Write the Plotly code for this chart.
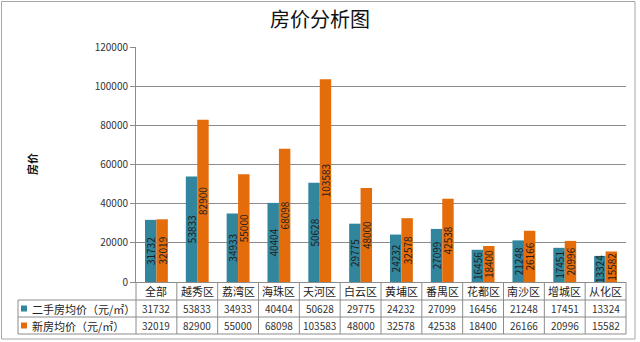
import plotly.graph_objects as go

# Average housing prices by district (yuan per square metre)
districts = ["全部", "越秀区", "荔湾区", "海珠区", "天河区", "白云区",
             "黄埔区", "番禺区", "花都区", "南沙区", "增城区", "从化区"]
second_hand = [31732, 53833, 34933, 40404, 50628, 29775,
               24232, 27099, 16456, 21248, 17451, 13324]
new_homes = [32019, 82900, 55000, 68098, 103583, 48000,
             32578, 42538, 18400, 26166, 20996, 15582]
series_names = ["二手房均价（元/㎡）", "新房均价（元/㎡）"]
y_ticks = [0, 20000, 40000, 60000, 80000, 100000, 120000]

TEAL = "#31859C"
ORANGE = "#E46C0A"
GRID = "#8C8C8C"
BORDER = "#A6A6A6"
FONT = "Noto Sans CJK SC"

W, H = 640, 342
L, R, T, B = 136, 14, 47, 60
PW, PH = W - L - R, H - T - B


def px_x(px):
    return (px - L) / PW


def px_y(py):
    return (H - B - py) / PH


fig = go.Figure()
for name, vals, color in [(series_names[0], second_hand, TEAL),
                          (series_names[1], new_homes, ORANGE)]:
    fig.add_trace(go.Bar(
        x=districts, y=vals, name=name, marker_color=color,
        marker_line_width=0,
        texttemplate="%{y:d}", textposition="inside",
        insidetextanchor="middle", textangle=-90, constraintext="none",
        textfont=dict(family=FONT, size=10, color="#1E1E1E"),
        hoverinfo="skip",
    ))

shapes = []
annotations = []

# outer chart frame
shapes.append(dict(type="rect", xref="paper", yref="paper",
                   x0=px_x(1.5), x1=px_x(635), y0=px_y(339), y1=px_y(1.5),
                   line=dict(color=BORDER, width=1)))

# data table under the plot: horizontal rules
row_lines = [300, 317, 334]
for py in row_lines:
    shapes.append(dict(type="line", xref="paper", yref="paper",
                       x0=px_x(18), x1=1, y0=px_y(py), y1=px_y(py),
                       line=dict(color=GRID, width=1)))
# vertical rules between categories
n = len(districts)
for i in range(n + 1):
    shapes.append(dict(type="line", xref="paper", yref="paper",
                       x0=i / n, x1=i / n, y0=0, y1=px_y(334),
                       line=dict(color=GRID, width=1)))
# left edge of the series-name column
shapes.append(dict(type="line", xref="paper", yref="paper",
                   x0=px_x(18), x1=px_x(18), y0=px_y(300), y1=px_y(334),
                   line=dict(color=GRID, width=1)))

header_y = px_y(291)
row_y = [px_y(308.5), px_y(325.5)]

for d in districts:
    annotations.append(dict(xref="x", yref="paper", x=d, y=header_y,
                            text=d, showarrow=False, yanchor="middle",
                            font=dict(family=FONT, size=11, color="#222")))

for ry, vals in zip(row_y, [second_hand, new_homes]):
    for d, v in zip(districts, vals):
        annotations.append(dict(xref="x", yref="paper", x=d, y=ry,
                                text=str(v), showarrow=False,
                                yanchor="middle",
                                font=dict(family=FONT, size=10, color="#333")))

# legend keys in the first column
for ry, name, color in zip(row_y, series_names, [TEAL, ORANGE]):
    cy = ry
    hx, hy = 3 / PW, 3 / PH
    shapes.append(dict(type="rect", xref="paper", yref="paper",
                       x0=px_x(24) - hx, x1=px_x(24) + hx,
                       y0=cy - hy, y1=cy + hy,
                       fillcolor=color, line=dict(width=0)))
    annotations.append(dict(xref="paper", yref="paper", x=px_x(30), y=cy,
                            text=name, showarrow=False, xanchor="left",
                            yanchor="middle",
                            font=dict(family=FONT, size=11, color="#222")))

# y-axis title
annotations.append(dict(xref="paper", yref="paper", x=px_x(22), y=px_y(164),
                        text="<b>房价</b>", textangle=-90, showarrow=False,
                        font=dict(family=FONT, size=11, color="#111")))

fig.update_layout(
    width=W, height=H,
    margin=dict(l=L, r=R, t=T, b=B, pad=0),
    paper_bgcolor="white", plot_bgcolor="white",
    title=dict(text="房价分析图", x=0.5, xref="container", xanchor="center",
               y=1 - 20 / H, yanchor="middle",
               font=dict(family=FONT, size=20, color="#111")),
    barmode="group", bargap=0.44, bargroupgap=0,
    showlegend=False,
    xaxis=dict(type="category", range=[-0.5, n - 0.5], showticklabels=False,
               showline=True, linecolor=GRID, linewidth=1, ticks="",
               showgrid=False, fixedrange=True),
    yaxis=dict(range=[0, 120000], tickvals=y_ticks,
               ticktext=[str(t) for t in y_ticks],
               showgrid=True, gridcolor=GRID, gridwidth=1,
               showline=True, linecolor=GRID, linewidth=1,
               ticks="outside", ticklen=5, tickcolor=GRID,
               tickfont=dict(family=FONT, size=10, color="#333"),
               zeroline=False, fixedrange=True),
    shapes=shapes, annotations=annotations,
    hovermode=False,
)

fig.write_html("out.html", config={"displayModeBar": False})
